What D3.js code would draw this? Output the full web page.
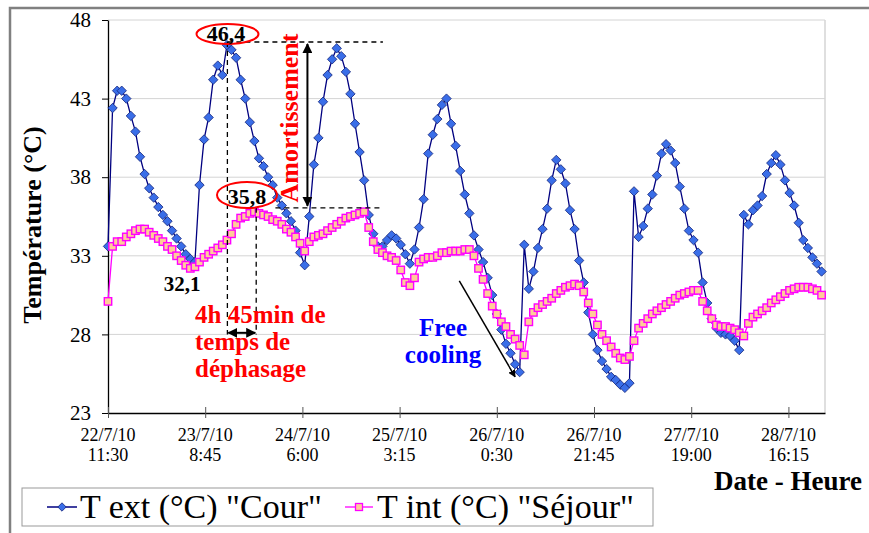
<!DOCTYPE html>
<html><head><meta charset="utf-8">
<script src="https://cdn.jsdelivr.net/npm/d3@7"></script>
<style>
body{margin:0;background:#fff}
svg{display:block}
text{font-family:"Liberation Serif","Times New Roman",serif}
</style>
</head><body>
<svg id="c" width="869" height="533"></svg>
<script>
// Hourly readings, starting 22/7/10 11:30
const tExt = [
33.6,42.4,43.5,43.5,43.0,41.9,40.9,39.3,38.2,37.3,
36.7,36.1,35.6,35.2,34.6,34.1,33.6,33.1,32.8,32.6,
37.5,40.4,41.8,44.2,45.1,44.5,46.4,46.1,45.6,44.2,
43.0,41.5,40.3,39.2,38.7,38.0,37.5,36.7,36.2,35.7,
35.2,34.6,33.2,32.4,35.5,38.8,40.5,42.8,44.5,45.5,
46.2,45.7,44.7,43.3,41.4,39.6,37.8,35.6,34.4,33.6,
33.6,34.0,34.3,34.1,33.7,33.1,32.5,33.4,34.8,36.6,
39.5,40.7,41.7,42.6,43.0,41.4,40.0,38.4,36.9,35.7,
34.3,33.4,32.6,31.6,30.5,29.3,28.3,27.4,26.8,26.1,
25.6,33.7,30.9,32.0,33.5,34.7,36.0,37.8,39.1,38.5,
37.6,35.9,34.7,32.7,31.3,29.4,28.0,27.0,26.3,25.8,
25.3,25.1,24.8,24.6,24.9,37.1,34.2,34.9,36.0,36.9,
38.1,39.5,40.1,39.7,38.9,37.4,36.0,34.6,34.0,33.2,
31.3,30.0,29.0,28.4,28.1,28.0,27.9,27.6,27.0,35.6,
35.0,35.9,36.2,36.8,38.2,38.9,39.4,38.8,37.8,37.0,
36.2,35.1,34.0,33.5,32.9,32.5,32.0];
const tInt = [
30.1,33.6,33.9,33.9,34.2,34.4,34.6,34.7,34.7,34.5,
34.3,34.1,33.9,33.6,33.4,33.0,32.7,32.4,32.2,32.3,
32.6,32.9,33.1,33.3,33.5,33.7,34.0,34.4,35.0,35.4,
35.5,35.7,35.8,35.7,35.6,35.5,35.3,35.2,35.0,34.7,
34.5,34.2,33.8,33.3,33.9,34.2,34.3,34.4,34.6,34.8,
35.0,35.2,35.4,35.5,35.6,35.7,35.8,34.8,33.9,33.4,
33.2,33.0,32.9,32.7,32.1,31.3,31.1,31.6,32.6,32.8,
32.9,32.9,33.0,33.2,33.2,33.3,33.3,33.3,33.4,33.4,
33.0,32.2,31.5,30.6,29.8,29.3,28.8,28.5,28.0,27.7,
27.3,26.7,28.8,29.4,29.7,29.9,30.1,30.3,30.6,30.8,
31.0,31.1,31.2,31.1,30.7,30.0,29.3,28.6,28.0,27.6,
27.2,26.8,26.5,26.4,26.6,27.6,28.4,28.7,29.0,29.3,
29.5,29.7,29.9,30.1,30.3,30.5,30.6,30.7,30.8,30.8,
30.1,29.5,29.0,28.6,28.5,28.5,28.4,28.3,28.1,27.9,
28.7,29.1,29.3,29.5,29.7,30.0,30.2,30.4,30.6,30.8,
30.9,31.0,31.0,31.0,30.9,30.8,30.5];
const yTicks = [23,28,33,38,43,48];
const xTickHours = [0,21.25,42.5,63.75,85,106.25,127.5,148.75];
const xTickDates = ["22/7/10","23/7/10","24/7/10","25/7/10","26/7/10","26/7/10","27/7/10","28/7/10"];
const xTickTimes = ["11:30","8:45","6:00","3:15","0:30","21:45","19:00","16:15"];
const seriesNames = ['T ext (°C) "Cour"','T int (°C) "Séjour"'];

const svg = d3.select("#c");
const L=108, R=825, T=20, B=413;
const x = d3.scaleLinear().domain([0,156.75]).range([L,R]);
const y = d3.scaleLinear().domain([23,48]).range([B,T]);

// outer chart frame
svg.append("rect").attr("x",10).attr("y",8).attr("width",900).attr("height",600)
  .attr("fill","#fff").attr("stroke","#808080").attr("stroke-width",2.5);

// gridlines
svg.append("g").selectAll("line").data(yTicks.slice(1)).join("line")
  .attr("x1",L).attr("x2",R).attr("y1",d=>y(d)).attr("y2",d=>y(d))
  .attr("stroke","#d4d4d4").attr("stroke-width",1);
svg.append("line").attr("x1",R).attr("x2",R).attr("y1",T).attr("y2",B)
  .attr("stroke","#d4d4d4").attr("stroke-width",1.5);

// y axis
const ya = svg.append("g").attr("transform",`translate(${L},0)`)
  .call(d3.axisLeft(y).tickValues(yTicks).tickSize(6).tickSizeOuter(0).tickFormat(d3.format("d")));
ya.select(".domain").attr("stroke","#000").attr("stroke-width",1.3);
ya.selectAll(".tick line").attr("stroke","#000");
ya.selectAll(".tick text").attr("font-size",21).attr("font-family","Liberation Serif").attr("fill","#000").attr("x",-17);

// x axis
const xa = svg.append("g").attr("transform",`translate(0,${B})`)
  .call(d3.axisBottom(x).tickValues(xTickHours).tickSize(5).tickSizeOuter(0).tickFormat(""));
xa.select(".domain").attr("stroke","#000").attr("stroke-width",1.5);
xa.selectAll(".tick line").attr("stroke","#555").attr("y1",-6);
const xl = svg.append("g").selectAll("text").data(xTickHours).join("text")
  .attr("x",d=>x(d)).attr("y",441).attr("text-anchor","middle").attr("font-size",18);
xl.append("tspan").attr("x",d=>x(d)).text((d,i)=>xTickDates[i]);
xl.append("tspan").attr("x",d=>x(d)).attr("dy",20).text((d,i)=>xTickTimes[i]);

// axis titles
svg.append("text").attr("transform","translate(41,225) rotate(-90)").attr("text-anchor","middle")
  .attr("font-size",26).attr("font-weight","bold").text("Température (°C)");
svg.append("text").attr("x",862).attr("y",490).attr("text-anchor","end")
  .attr("font-size",27).attr("font-weight","bold").text("Date - Heure");

// series
const idx = d3.range(tExt.length);
const lineExt = d3.line().x(i=>x(i)).y(i=>y(tExt[i]));
const lineInt = d3.line().x(i=>x(i)).y(i=>y(tInt[i]));
const diamond = r=>`M0,${-r}L${r},0L0,${r}L${-r},0Z`;

svg.append("path").attr("d",lineExt(idx)).attr("fill","none").attr("stroke","#000080").attr("stroke-width",1.3);
svg.append("g").selectAll("path").data(idx).join("path")
  .attr("transform",i=>`translate(${x(i)},${y(tExt[i])})`).attr("d",diamond(4.7))
  .attr("fill","#3a6ee8").attr("stroke","#13237a").attr("stroke-width",0.8);

svg.append("path").attr("d",lineInt(idx)).attr("fill","none").attr("stroke","#ff00ff").attr("stroke-width",1.3);
svg.append("g").selectAll("rect").data(idx).join("rect")
  .attr("x",i=>x(i)-3.7).attr("y",i=>y(tInt[i])-3.7).attr("width",7.4).attr("height",7.4)
  .attr("fill","#ffcc99").attr("stroke","#ff00ff").attr("stroke-width",1.4);

// annotations
const defs = svg.append("defs");
defs.append("marker").attr("id","ah").attr("viewBox","0 0 10 10").attr("refX",9).attr("refY",5)
  .attr("markerWidth",5).attr("markerHeight",5).attr("orient","auto-start-reverse")
  .append("path").attr("d","M0,0L10,5L0,10Z").attr("fill","#000");

const dash = (x1,y1,x2,y2)=>svg.append("line").attr("x1",x1).attr("y1",y1).attr("x2",x2).attr("y2",y2)
  .attr("stroke","#000").attr("stroke-width",1.3).attr("stroke-dasharray","5,4");
const hPeakExt = 26.1, hPeakInt = 32.4;
dash(x(hPeakExt),y(46.6),x(60.1),y(46.6));
dash(x(36.6),y(36.05),x(60.1),y(36.05));
dash(x(hPeakExt),y(46.6),x(hPeakExt),y(28));
dash(x(hPeakInt),y(36.05),x(hPeakInt),y(28));

svg.append("line").attr("x1",x(43.6)).attr("x2",x(43.6)).attr("y1",y(46.6)+2).attr("y2",y(36.05)-2)
  .attr("stroke","#000").attr("stroke-width",2).attr("marker-start","url(#ah)").attr("marker-end","url(#ah)");
svg.append("line").attr("x1",x(hPeakExt)+1).attr("x2",x(hPeakInt)-1).attr("y1",y(28.1)).attr("y2",y(28.1))
  .attr("stroke","#000").attr("stroke-width",2).attr("marker-start","url(#ah)").attr("marker-end","url(#ah)");
svg.append("line").attr("x1",x(76.8)).attr("y1",y(31.4)).attr("x2",x(89.0)).attr("y2",y(25.3))
  .attr("stroke","#000").attr("stroke-width",1.5).attr("marker-end","url(#ah)");

svg.append("ellipse").attr("cx",227.5).attr("cy",34).attr("rx",31).attr("ry",10)
  .attr("fill","none").attr("stroke","#ff0000").attr("stroke-width",2);
svg.append("text").attr("x",226).attr("y",41).attr("text-anchor","middle").attr("font-size",22).attr("font-weight","bold").text("46,4");
svg.append("ellipse").attr("cx",247).attr("cy",195).attr("rx",30).attr("ry",13)
  .attr("fill","none").attr("stroke","#ff0000").attr("stroke-width",2);
svg.append("text").attr("x",247).attr("y",204).attr("text-anchor","middle").attr("font-size",22).attr("font-weight","bold").text("35,8");
svg.append("text").attr("x",182).attr("y",291).attr("text-anchor","middle").attr("font-size",21).attr("font-weight","bold").text("32,1");

svg.append("text").attr("transform","translate(298,118) rotate(-90)").attr("text-anchor","middle")
  .attr("font-size",26).attr("font-weight","bold").attr("fill","#ff0000").text("Amortissement");

const ph = svg.append("text").attr("x",195).attr("y",323).attr("font-size",25).attr("font-weight","bold").attr("fill","#ff0000");
ph.append("tspan").attr("x",195).text("4h 45min de");
ph.append("tspan").attr("x",195).attr("dy",27).text("temps de");
ph.append("tspan").attr("x",195).attr("dy",27).text("déphasage");

svg.append("text").attr("x",443).attr("y",336).attr("text-anchor","middle").attr("font-size",25).attr("font-weight","bold").attr("fill","#0000ff").text("Free");
svg.append("text").attr("x",443).attr("y",363).attr("text-anchor","middle").attr("font-size",25).attr("font-weight","bold").attr("fill","#0000ff").text("cooling");

// legend
const lg = svg.append("g");
lg.append("rect").attr("x",22).attr("y",488).attr("width",631).attr("height",38)
  .attr("fill","#fff").attr("stroke","#999").attr("stroke-width",1);
lg.append("line").attr("x1",47).attr("x2",77).attr("y1",507).attr("y2",507).attr("stroke","#000080").attr("stroke-width",1.5);
lg.append("path").attr("transform","translate(62,507)").attr("d",diamond(4.2)).attr("fill","#3a6ee8").attr("stroke","#13237a").attr("stroke-width",0.8);
lg.append("text").attr("x",80).attr("y",518).attr("font-size",34).text(seriesNames[0]);
lg.append("line").attr("x1",345).attr("x2",373).attr("y1",507).attr("y2",507).attr("stroke","#ff00ff").attr("stroke-width",1.3);
lg.append("rect").attr("x",355.5).attr("y",503.5).attr("width",7).attr("height",7).attr("fill","#ffcc99").attr("stroke","#ff00ff").attr("stroke-width",1.3);
lg.append("text").attr("x",377).attr("y",518).attr("font-size",34).text(seriesNames[1]);
</script>
</body></html>
